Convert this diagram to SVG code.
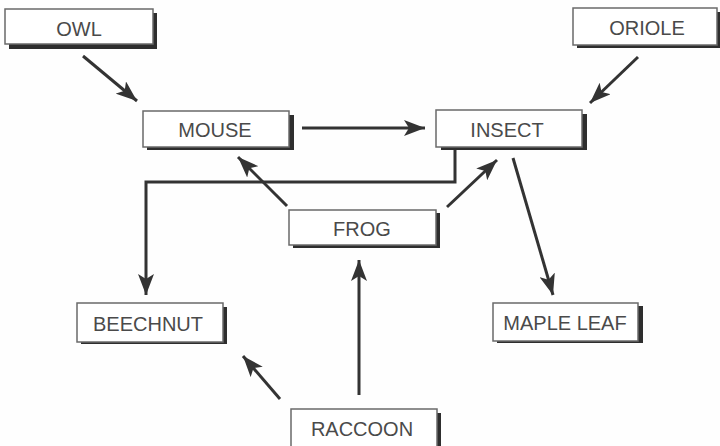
<svg xmlns="http://www.w3.org/2000/svg" width="720" height="446" viewBox="0 0 720 446">
  <defs>
    <style>
      .box { fill: #ffffff; stroke: #6a6a6a; stroke-width: 1.5; }
      .shadow { fill: #2e2e2e; }
      .label { font-family: "Liberation Sans", "DejaVu Sans", sans-serif; font-size: 20px; fill: #4a4a4a; text-anchor: middle; }
      .link { fill: none; stroke: #333333; stroke-width: 3; stroke-linecap: butt; }
    </style>
    <marker id="head" markerUnits="userSpaceOnUse" markerWidth="22" markerHeight="16" refX="21" refY="8" orient="auto">
      <path d="M0,0 L21,8 L0,16 L5,8 z" fill="#333333"/>
    </marker>
  </defs>

  <rect width="720" height="446" fill="#fefefe"/>

  <!-- food-web links -->
  <g id="connectors">
    <line class="link" x1="83" y1="56" x2="137" y2="101" marker-end="url(#head)"/>
    <line class="link" x1="302" y1="128" x2="425" y2="128" stroke-width="2.5" marker-end="url(#head)"/>
    <line class="link" x1="638" y1="57" x2="590" y2="103" marker-end="url(#head)"/>
    <polyline class="link" points="455,150 455,182 146,182 146,295" marker-end="url(#head)"/>
    <line class="link" x1="287" y1="206" x2="238" y2="157" marker-end="url(#head)"/>
    <line class="link" x1="447" y1="207" x2="497" y2="160" marker-end="url(#head)"/>
    <line class="link" x1="513" y1="158" x2="553" y2="295" marker-end="url(#head)"/>
    <line class="link" x1="359" y1="395" x2="359" y2="260" stroke-width="4" marker-end="url(#head)"/>
    <line class="link" x1="280" y1="399" x2="243" y2="356" marker-end="url(#head)"/>
  </g>

  <g id="owl">
    <rect class="shadow" x="9" y="13" width="148" height="36"/>
    <rect class="box" x="5" y="9" width="148" height="35"/>
    <text class="label" x="79" y="36">OWL</text>
  </g>

  <g id="oriole">
    <rect class="shadow" x="577" y="12" width="143" height="36"/>
    <rect class="box" x="573" y="8" width="144" height="37"/>
    <text class="label" x="647" y="35">ORIOLE</text>
  </g>

  <g id="mouse">
    <rect class="shadow" x="147" y="115" width="147" height="35"/>
    <rect class="box" x="143" y="111" width="146" height="36"/>
    <text class="label" x="215" y="137">MOUSE</text>
  </g>

  <g id="insect">
    <rect class="shadow" x="441" y="114" width="146" height="36"/>
    <rect class="box" x="436" y="110" width="146" height="37"/>
    <text class="label" x="507" y="137">INSECT</text>
  </g>

  <g id="frog">
    <rect class="shadow" x="293" y="213" width="147" height="35"/>
    <rect class="box" x="289" y="210" width="147" height="35"/>
    <text class="label" x="362" y="236">FROG</text>
  </g>

  <g id="beechnut">
    <rect class="shadow" x="81" y="307" width="146" height="37"/>
    <rect class="box" x="77" y="303" width="146" height="39"/>
    <text class="label" x="148" y="331">BEECHNUT</text>
  </g>

  <g id="maple-leaf">
    <rect class="shadow" x="497" y="306" width="146" height="37"/>
    <rect class="box" x="493" y="303" width="145" height="38"/>
    <text class="label" x="565" y="330">MAPLE LEAF</text>
  </g>

  <g id="raccoon">
    <rect class="shadow" x="295" y="413" width="146" height="40"/>
    <rect class="box" x="291" y="409" width="146" height="42"/>
    <text class="label" x="362" y="436">RACCOON</text>
  </g>
</svg>
